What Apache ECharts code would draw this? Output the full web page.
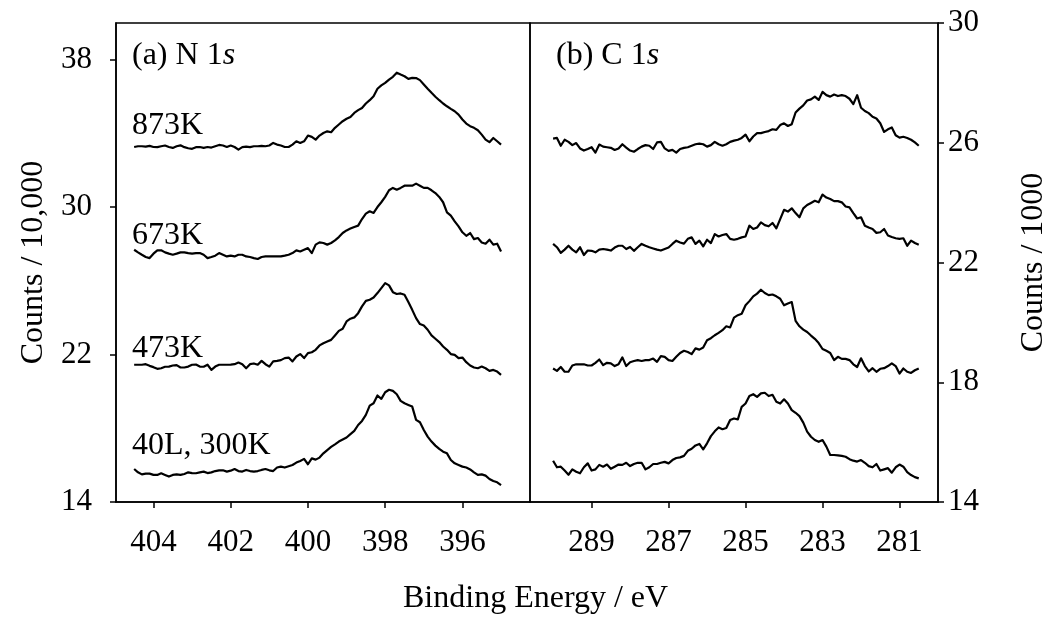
<!DOCTYPE html>
<html>
<head>
<meta charset="utf-8">
<script src="https://cdn.jsdelivr.net/npm/echarts@6/dist/echarts.min.js"></script>
<style>html,body{margin:0;padding:0;background:#fff}#c{width:1052px;height:620px}</style>
</head>
<body>
<div id="c"></div>
<script>
// Binding energies (eV)
const eN = [404.5,404.4,404.3,404.2,404.1,404.0,403.9,403.8,403.7,403.6,
403.5,403.4,403.3,403.2,403.1,403.0,402.9,402.8,402.7,402.6,
402.5,402.4,402.3,402.2,402.1,402.0,401.9,401.8,401.7,401.6,
401.5,401.4,401.3,401.2,401.1,401.0,400.9,400.8,400.7,400.6,
400.5,400.4,400.3,400.2,400.1,400.0,399.9,399.8,399.7,399.6,
399.5,399.4,399.3,399.2,399.1,399.0,398.9,398.8,398.7,398.6,
398.5,398.4,398.3,398.2,398.1,398.0,397.9,397.8,397.7,397.6,
397.5,397.4,397.3,397.2,397.1,397.0,396.9,396.8,396.7,396.6,
396.5,396.4,396.3,396.2,396.1,396.0,395.9,395.8,395.7,395.6,
395.5,395.4,395.3,395.2,395.1,395.0];
const eC = [290.0,289.9,289.8,289.7,289.6,289.5,289.4,289.3,289.2,289.1,
289.0,288.9,288.8,288.7,288.6,288.5,288.4,288.3,288.2,288.1,
288.0,287.9,287.8,287.7,287.6,287.5,287.4,287.3,287.2,287.1,
287.0,286.9,286.8,286.7,286.6,286.5,286.4,286.3,286.2,286.1,
286.0,285.9,285.8,285.7,285.6,285.5,285.4,285.3,285.2,285.1,
285.0,284.9,284.8,284.7,284.6,284.5,284.4,284.3,284.2,284.1,
284.0,283.9,283.8,283.7,283.6,283.5,283.4,283.3,283.2,283.1,
283.0,282.9,282.8,282.7,282.6,282.5,282.4,282.3,282.2,282.1,
282.0,281.9,281.8,281.7,281.6,281.5,281.4,281.3,281.2,281.1,
281.0,280.9,280.8,280.7,280.6,280.5];

// N 1s, counts / 10,000
const n873 = [33.27,33.31,33.31,33.29,33.33,33.27,33.26,33.31,33.35,33.27,33.22,33.31,33.36,33.26,33.20,33.17,33.26,33.27,33.22,33.27,33.24,33.31,33.38,33.35,33.27,33.35,33.27,33.13,33.26,33.29,33.26,33.31,33.31,33.33,33.31,33.35,33.49,33.40,33.35,33.27,33.27,33.40,33.58,33.49,33.58,33.89,33.82,33.67,33.89,34.03,34.12,34.07,34.31,34.49,34.67,34.80,34.90,35.12,35.27,35.39,35.63,35.81,36.03,36.43,36.61,36.75,36.93,37.08,37.30,37.20,37.11,36.97,37.02,37.01,36.90,36.66,36.43,36.21,36.00,35.81,35.63,35.48,35.34,35.21,35.03,34.76,34.54,34.40,34.31,34.18,33.94,33.67,33.53,33.76,33.58,33.40];
const n673 = [27.69,27.55,27.42,27.30,27.24,27.48,27.66,27.66,27.55,27.48,27.42,27.48,27.55,27.55,27.51,27.48,27.51,27.51,27.42,27.24,27.30,27.37,27.51,27.42,27.33,27.37,27.33,27.42,27.42,27.33,27.30,27.24,27.19,27.30,27.33,27.33,27.33,27.33,27.33,27.37,27.42,27.51,27.66,27.60,27.69,27.78,27.51,27.97,28.09,28.06,27.97,28.06,28.20,28.38,28.60,28.74,28.84,28.93,29.00,29.36,29.65,29.78,29.69,30.01,30.27,30.56,30.92,31.05,30.95,31.05,31.17,31.17,31.17,31.28,31.17,31.05,31.05,30.92,30.77,30.56,30.27,29.72,29.54,29.23,28.96,28.64,28.45,28.60,28.27,28.33,28.09,28.02,28.24,27.97,28.02,27.60];
const n473 = [21.45,21.45,21.45,21.48,21.39,21.32,21.23,21.26,21.34,21.35,21.41,21.43,21.30,21.30,21.35,21.45,21.46,21.35,21.34,21.45,21.17,21.35,21.45,21.45,21.45,21.46,21.48,21.57,21.48,21.26,21.48,21.52,21.45,21.66,21.48,21.35,21.63,21.66,21.70,21.81,21.84,21.63,21.90,22.03,21.81,22.08,22.13,22.26,22.50,22.62,22.71,22.80,23.04,23.29,23.40,23.80,23.95,24.02,24.25,24.62,24.92,24.98,25.10,25.34,25.61,25.88,25.76,25.39,25.29,25.32,25.25,24.85,24.43,23.98,23.66,23.58,23.35,23.04,22.86,22.68,22.44,22.26,22.03,21.99,21.81,21.84,21.59,21.41,21.30,21.26,21.35,21.26,21.12,21.17,21.08,20.90];
const n300 = [15.79,15.61,15.50,15.54,15.54,15.47,15.47,15.56,15.47,15.38,15.47,15.50,15.47,15.52,15.61,15.57,15.56,15.61,15.65,15.57,15.61,15.68,15.72,15.72,15.65,15.70,15.79,15.68,15.65,15.74,15.68,15.65,15.68,15.74,15.79,15.72,15.68,15.87,15.92,15.87,15.94,16.01,16.14,16.23,16.34,16.05,16.37,16.30,16.41,16.64,16.82,16.99,17.13,17.28,17.39,17.50,17.68,17.86,18.18,18.40,18.73,19.23,19.36,19.78,19.60,19.96,20.09,20.03,19.85,19.49,19.36,19.27,19.18,18.46,18.33,17.91,17.55,17.28,17.06,16.88,16.73,16.64,16.28,16.10,16.01,15.92,15.87,15.77,15.61,15.47,15.50,15.43,15.25,15.14,15.07,14.92];

// C 1s, counts / 1000
const c873 = [26.14,26.16,25.90,26.10,26.03,25.92,25.99,25.81,25.74,25.79,25.85,25.67,25.94,25.87,25.85,25.83,25.76,25.81,25.95,25.84,25.74,25.70,25.79,25.87,25.92,25.90,25.79,26.01,26.03,25.81,25.73,25.76,25.67,25.79,25.83,25.85,25.90,25.95,25.97,25.95,25.87,25.92,26.03,25.95,25.90,25.95,26.03,26.07,26.10,26.16,26.27,26.05,26.21,26.32,26.32,26.36,26.39,26.45,26.43,26.59,26.65,26.56,26.62,27.01,27.14,27.25,27.41,27.45,27.54,27.43,27.70,27.59,27.54,27.61,27.56,27.59,27.56,27.47,27.29,27.59,27.17,27.06,26.99,26.87,26.81,26.65,26.36,26.45,26.51,26.25,26.17,26.20,26.16,26.10,26.01,25.90];
const c673 = [22.62,22.51,22.32,22.43,22.56,22.43,22.34,22.51,22.25,22.40,22.39,22.34,22.43,22.45,22.43,22.40,22.50,22.56,22.56,22.45,22.52,22.39,22.51,22.62,22.56,22.51,22.47,22.43,22.40,22.45,22.50,22.62,22.73,22.67,22.63,22.79,22.84,22.62,22.73,22.54,22.76,22.65,22.95,22.87,22.92,22.95,22.79,22.76,22.79,22.84,22.87,23.23,23.12,23.17,23.34,23.25,23.21,23.32,23.14,23.45,23.76,23.70,23.81,23.65,23.51,23.81,23.92,23.99,24.06,24.01,24.27,24.17,24.12,24.05,24.05,24.01,23.87,23.84,23.65,23.47,23.51,23.23,23.17,23.12,22.99,23.01,23.12,22.90,22.85,22.81,22.79,22.81,22.56,22.73,22.65,22.59];
const c473 = [18.46,18.38,18.51,18.35,18.35,18.56,18.60,18.60,18.60,18.56,18.56,18.65,18.76,18.57,18.65,18.63,18.54,18.60,18.83,18.54,18.67,18.71,18.74,18.71,18.74,18.74,18.79,18.68,18.87,18.85,18.74,18.71,18.85,18.98,19.05,19.01,18.94,19.13,19.09,19.16,19.40,19.47,19.57,19.65,19.74,19.87,19.83,20.16,20.24,20.29,20.57,20.71,20.87,20.96,21.09,20.98,20.91,20.93,20.87,20.79,20.57,20.63,20.68,20.05,19.87,19.76,19.68,19.56,19.45,19.31,19.11,19.05,18.98,18.74,18.85,18.78,18.78,18.74,18.60,18.51,18.80,18.54,18.36,18.47,18.35,18.45,18.47,18.54,18.63,18.54,18.29,18.46,18.35,18.31,18.40,18.46];
const c300 = [15.38,15.16,15.18,15.05,14.91,15.09,15.01,14.96,15.16,15.29,15.05,15.09,15.24,15.18,15.25,15.11,15.18,15.25,15.24,15.31,15.20,15.27,15.31,15.31,15.09,15.16,15.27,15.27,15.31,15.34,15.29,15.40,15.47,15.49,15.54,15.71,15.78,15.89,15.94,15.76,15.96,16.20,16.36,16.49,16.43,16.47,16.74,16.79,16.76,17.18,17.29,17.54,17.60,17.51,17.63,17.65,17.54,17.58,17.35,17.29,17.43,17.29,17.07,16.98,16.87,16.65,16.35,16.18,16.07,16.01,16.07,15.85,15.57,15.57,15.56,15.54,15.51,15.43,15.38,15.35,15.40,15.31,15.20,15.16,15.27,15.05,15.09,15.13,14.98,15.16,15.25,15.18,15.00,14.90,14.83,14.79];

// Tick labels
const xTicksN = [404, 402, 400, 398, 396];
const xTicksC = [289, 287, 285, 283, 281];
const yTicksN = [14, 22, 30, 38];
const yTicksC = [14, 18, 22, 26, 30];
const curveLabels = ['873K', '673K', '473K', '40L, 300K'];

const FONT = 'Liberation Serif';
const FS = 31;
const FL = 32;
const pairs = (xs, ys) => xs.map((x, i) => [x, ys[i]]);
const lineSeries = (xi, data) => ({
  type: 'line', xAxisIndex: xi, yAxisIndex: xi, data, showSymbol: false, symbol: 'none',
  lineStyle: { color: '#000', width: 2.2, join: 'round' }, animation: false, silent: true
});
const axisText = { color: '#000', fontFamily: FONT, fontSize: FS };
const bigText = { color: '#000', fontFamily: FONT, fontSize: FL, fontWeight: 'normal' };

const chart = echarts.init(document.getElementById('c'), null, { renderer: 'canvas' });
chart.setOption({
  backgroundColor: '#fff',
  animation: false,
  grid: [
    { left: 116, top: 23, width: 414, height: 479, show: true, borderColor: '#000', borderWidth: 1.5, backgroundColor: 'transparent' },
    { left: 530, top: 23, width: 408, height: 479, show: true, borderColor: '#000', borderWidth: 1.5, backgroundColor: 'transparent' }
  ],
  xAxis: [
    { type: 'value', gridIndex: 0, min: 394.25, max: 404.97, inverse: true,
      axisLine: { show: true, onZero: false, lineStyle: { color: '#000', width: 1.5 } },
      axisTick: { show: true, customValues: xTicksN, length: 6, lineStyle: { color: '#000', width: 1.5 } },
      axisLabel: Object.assign({ customValues: xTicksN, margin: 25 }, axisText),
      splitLine: { show: false } },
    { type: 'value', gridIndex: 1, min: 280, max: 290.6, inverse: true,
      axisLine: { show: true, onZero: false, lineStyle: { color: '#000', width: 1.5 } },
      axisTick: { show: true, customValues: xTicksC, length: 6, lineStyle: { color: '#000', width: 1.5 } },
      axisLabel: Object.assign({ customValues: xTicksC, margin: 25 }, axisText),
      splitLine: { show: false } }
  ],
  yAxis: [
    { type: 'value', gridIndex: 0, min: 14, max: 40,
      axisLine: { show: true, onZero: false, lineStyle: { color: '#000', width: 1.5 } },
      axisTick: { show: true, customValues: yTicksN, length: 6, lineStyle: { color: '#000', width: 1.5 } },
      axisLabel: Object.assign({ customValues: yTicksN, margin: 24 }, axisText),
      splitLine: { show: false },
      name: 'Counts / 10,000', nameLocation: 'middle', nameRotate: 90, nameGap: 66,
      nameTextStyle: bigText },
    { type: 'value', gridIndex: 1, position: 'right', min: 14, max: 30, interval: 4,
      axisLine: { show: true, onZero: false, lineStyle: { color: '#000', width: 1.5 } },
      axisTick: { show: true, customValues: yTicksC, length: 6, lineStyle: { color: '#000', width: 1.5 } },
      axisLabel: Object.assign({ customValues: yTicksC, margin: 10 }, axisText),
      splitLine: { show: false },
      name: 'Counts / 1000', nameLocation: 'middle', nameRotate: 90, nameGap: 80,
      nameTextStyle: bigText }
  ],
  title: [
    { text: '{r|(a) N 1}{i|s}', left: 127, top: 35, textStyle: { rich: { r: bigText, i: Object.assign({}, bigText, { fontStyle: 'italic' }) } } },
    { text: '{r|(b) C 1}{i|s}', left: 551, top: 35, textStyle: { rich: { r: bigText, i: Object.assign({}, bigText, { fontStyle: 'italic' }) } } },
    { text: curveLabels[0], left: 127, top: 105, textStyle: bigText },
    { text: curveLabels[1], left: 127, top: 215, textStyle: bigText },
    { text: curveLabels[2], left: 127, top: 328, textStyle: bigText },
    { text: curveLabels[3], left: 127, top: 425, textStyle: bigText },
    { text: 'Binding Energy / eV', left: 398, top: 578, textStyle: bigText }
  ],
  series: [
    lineSeries(0, pairs(eN, n873)),
    lineSeries(0, pairs(eN, n673)),
    lineSeries(0, pairs(eN, n473)),
    lineSeries(0, pairs(eN, n300)),
    lineSeries(1, pairs(eC, c873)),
    lineSeries(1, pairs(eC, c673)),
    lineSeries(1, pairs(eC, c473)),
    lineSeries(1, pairs(eC, c300))
  ]
});
</script>
</body>
</html>
